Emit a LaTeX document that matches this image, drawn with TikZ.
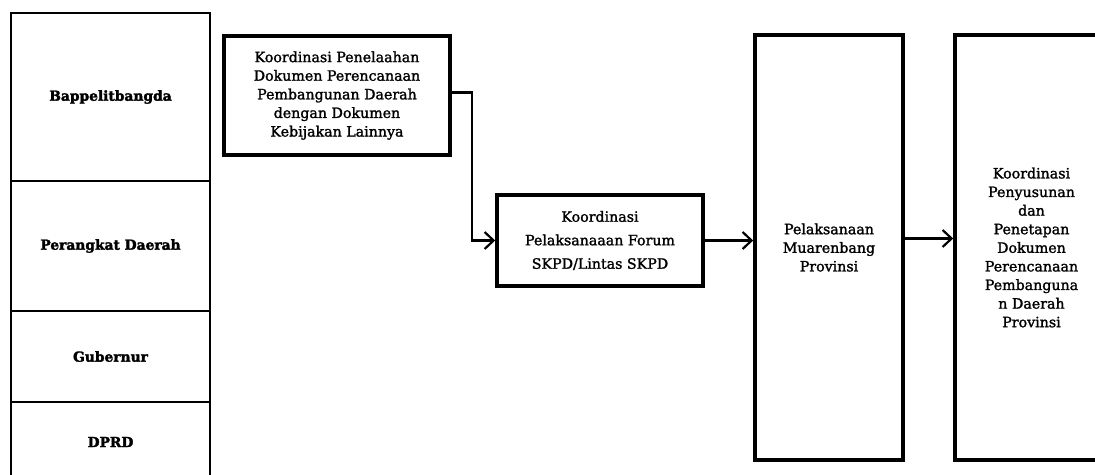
\documentclass[tikz,border=0pt]{standalone}
\usepackage{fontspec}
\setmainfont{DejaVu Serif}
\newfontfamily\stepfont[FakeBold=1.6]{DejaVu Serif}
\newfontfamily\lanefont[FakeBold=2.2]{DejaVu Serif Bold}
\usetikzlibrary{arrows.meta}

\tikzset{
  lane/.style={draw, line width=1.2pt, minimum width=199pt, inner sep=0pt,
    font=\lanefont\fontsize{13.8pt}{15pt}\selectfont},
  stepbox/.style={draw, line width=3.6pt, align=center, inner sep=2pt,
    font=\stepfont\fontsize{14.2pt}{18.6pt}\selectfont},
  flow/.style={line width=2.4pt, -{Straight Barb[length=9pt,width=17pt,line width=2.2pt]}}
}

\begin{document}
\begin{tikzpicture}[x=1pt,y=-1pt]
  \useasboundingbox (0,0) rectangle (1095,474);
  \clip (0,0) rectangle (1095,474);

  % responsibility lanes on the left
  \node[lane, minimum height=168pt] (bap) at (110.5,97) {Bappelitbangda};
  \node[lane, minimum height=130pt] (pd)  at (110.5,246) {Perangkat Daerah};
  \node[lane, minimum height=91pt]  (gub) at (110.5,356.5) {Gubernur};
  \node[lane, minimum height=80pt]  (dprd) at (110.5,442) {DPRD};

  % process steps
  \node[stepbox, minimum width=226pt, minimum height=119pt] (s1) at (337,95.5)
    {Koordinasi Penelaahan\\Dokumen Perencanaan\\Pembangunan Daerah\\dengan Dokumen\\Kebijakan Lainnya};
  \node[stepbox, minimum width=206pt, minimum height=91pt,
        font=\stepfont\fontsize{14.2pt}{23.5pt}\selectfont] (s2) at (600,240.5)
    {Koordinasi\\Pelaksanaaan Forum\\SKPD/Lintas SKPD};
  \node[stepbox, minimum width=148pt, minimum height=425pt] (s3) at (829,247.5)
    {Pelaksanaan\\Muarenbang\\Provinsi};
  \node[stepbox, minimum width=153pt, minimum height=425pt] (s4) at (1031.5,247.5)
    {Koordinasi\\Penyusunan\\dan\\Penetapan\\Dokumen\\Perencanaan\\Pembanguna\\n Daerah\\Provinsi};

  % connectors
  \draw[flow] ([yshift=3pt]s1.east) -- ++(20,0) |- (s2.west);
  \draw[flow] (s2.east) -- (s2.east -| s3.west);
  \draw[flow] ([yshift=9pt]s3.east) -- ([yshift=9pt]s4.west);
\end{tikzpicture}
\end{document}
